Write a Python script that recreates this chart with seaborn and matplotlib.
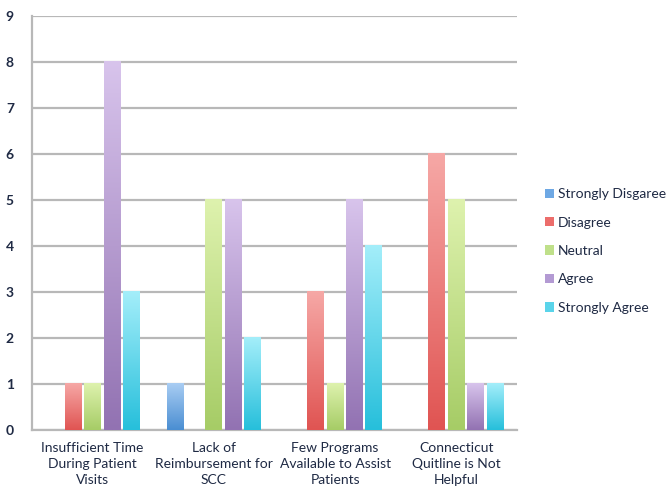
import numpy as np
import pandas as pd
import matplotlib
matplotlib.use("Agg")
import matplotlib.pyplot as plt
import matplotlib.colors as mcolors
from matplotlib.patches import Patch
import seaborn as sns

categories = [
    "Insufficient Time\nDuring Patient\nVisits",
    "Lack of\nReimbursement for\nSCC",
    "Few Programs\nAvailable to Assist\nPatients",
    "Connecticut\nQuitline is Not\nHelpful",
]
responses = ["Strongly Disgaree", "Disagree", "Neutral", "Agree", "Strongly Agree"]
strongly_disagree = [0, 1, 0, 0]
disagree = [1, 0, 3, 6]
neutral = [1, 5, 1, 5]
agree = [8, 5, 5, 1]
strongly_agree = [3, 2, 4, 1]
y_ticks = list(range(0, 10))

# light (top) and dark (bottom) shade per response
top_colors = ["#a9cdf3", "#f6a8a6", "#def2ae", "#d8c4ec", "#a4eefa"]
bottom_colors = ["#4a8ed2", "#e05452", "#a6cc66", "#9272b2", "#26bfdb"]
legend_colors = ["#6ea8e4", "#ec6d6b", "#bfe08a", "#b39ad3", "#5ad4ea"]

series = [strongly_disagree, disagree, neutral, agree, strongly_agree]
rows = []
for resp, vals in zip(responses, series):
    for cat, v in zip(categories, vals):
        rows.append({"Barrier": cat, "Response": resp, "Count": v})
df = pd.DataFrame(rows)

plt.rcParams["font.family"] = ["Lato", "DejaVu Sans"]
fig = plt.figure(figsize=(6.68, 4.87), dpi=100)
ax = fig.add_axes([32 / 668, 1 - 430 / 487, (517 - 32) / 668, (430 - 16) / 487])

sns.barplot(data=df, x="Barrier", y="Count", hue="Response", order=categories,
            hue_order=responses, palette=bottom_colors, width=0.8, ax=ax,
            legend=False, saturation=1, errorbar=None, zorder=3)

ax.set_ylim(0, 9)
ax.set_xlim(-0.5, 3.5)
ax.set_yticks(y_ticks)
ax.set_yticklabels([str(t) for t in y_ticks], fontsize=10, color="#1f2a44",
                   fontweight="bold")
ax.tick_params(axis="y", length=0, pad=13)
ax.tick_params(axis="x", length=0, pad=9, labelsize=10, colors="#1f2a44")
for lbl in ax.get_xticklabels():
    lbl.set_linespacing(1.35)
ax.set_xlabel("")
ax.set_ylabel("")
ax.yaxis.grid(True, color="#b8b8b8", linewidth=1.6, zorder=0)
ax.set_axisbelow(True)
for side in ["top", "right"]:
    ax.spines[side].set_visible(False)
ax.spines["left"].set_color("#b8b8b8")
ax.spines["left"].set_linewidth(1.6)
ax.spines["bottom"].set_color("#b8b8b8")
ax.spines["bottom"].set_linewidth(1.6)

# vertical gradient fill for each bar
n_cat = len(categories)
for i, patch in enumerate(ax.patches[: len(responses) * n_cat]):
    h = patch.get_height()
    if h <= 0:
        continue
    ri = i // n_cat
    x0 = patch.get_x()
    w = patch.get_width()
    cmap = mcolors.LinearSegmentedColormap.from_list(
        f"g{ri}", [bottom_colors[ri], top_colors[ri]])
    grad = np.linspace(0, 1, 256).reshape(-1, 1)
    ax.imshow(grad, extent=[x0 + 0.01, x0 + w - 0.01, 0, h], origin="lower",
              aspect="auto", cmap=cmap, zorder=3)
    patch.set_visible(False)
ax.set_xlim(-0.5, 3.5)
ax.set_ylim(0, 9)

handles = [Patch(facecolor=c, edgecolor="none") for c in legend_colors]
fig.legend(handles, responses, loc="center left", bbox_to_anchor=(532 / 668, 1 - 251 / 487),
           frameon=False, fontsize=10, handlelength=0.65, handleheight=0.65,
           handletextpad=0.3, labelspacing=1.18, labelcolor="#1f2a44")

fig.savefig("out.png", dpi=100)
